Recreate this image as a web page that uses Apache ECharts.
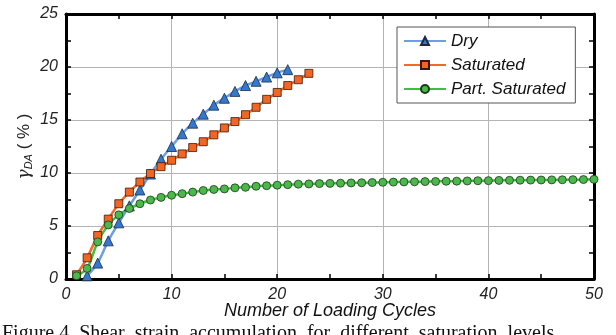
<!DOCTYPE html>
<html lang="en" style="height: 100%">
<head>
    <meta charset="utf-8">
    <title>Shear strain accumulation</title>
    <style>
        body { margin: 0; background: #fff; }
        #chart { width: 616px; height: 335px; }
    </style>
</head>
<body>
<div id="chart"></div>
<script src="https://cdn.jsdelivr.net/npm/echarts@6/dist/echarts.min.js"></script>
<script>
    // values
    const dryCycles = [2, 3, 4, 5, 6, 7, 8, 9, 10, 11, 12, 13, 14, 15, 16, 17, 18, 19, 20, 21];
    const dryValues = [0.3, 1.5, 3.6, 5.3, 6.9, 8.4, 9.9, 11.3, 12.5, 13.7, 14.7, 15.55, 16.4, 17.05, 17.7, 18.25, 18.65, 19.05, 19.45, 19.75];

    const satCycles = [1, 2, 3, 4, 5, 6, 7, 8, 9, 10, 11, 12, 13, 14, 15, 16, 17, 18, 19, 20, 21, 22, 23];
    const satValues = [0.4, 2.0, 4.1, 5.65, 7.1, 8.2, 9.15, 9.95, 10.6, 11.2, 11.8, 12.4, 12.95, 13.6, 14.25, 14.85, 15.5, 16.2, 16.95, 17.6, 18.25, 18.8, 19.4];

    const partCycles = [1, 2, 3, 4, 5, 6, 7, 8, 9, 10, 11, 12, 13, 14, 15, 16, 17, 18, 19, 20, 21, 22, 23, 24, 25,
        26, 27, 28, 29, 30, 31, 32, 33, 34, 35, 36, 37, 38, 39, 40, 41, 42, 43, 44, 45, 46, 47, 48, 49, 50];
    const partValues = [0.3, 1.0, 3.5, 5.1, 6.05, 6.65, 7.1, 7.45, 7.7, 7.9, 8.05, 8.2, 8.35, 8.45, 8.5, 8.6, 8.65, 8.75, 8.8, 8.85,
        8.9, 8.95, 8.97, 9.0, 9.02, 9.04, 9.06, 9.08, 9.1, 9.12, 9.14, 9.16, 9.17, 9.19, 9.2, 9.22, 9.23, 9.25, 9.27, 9.28,
        9.3, 9.31, 9.32, 9.33, 9.34, 9.35, 9.36, 9.37, 9.38, 9.4];

    const seriesNames = ['Dry', 'Saturated', 'Part. Saturated'];
    const xTicks = [0, 10, 20, 30, 40, 50];
    const yTicks = [0, 5, 10, 15, 20, 25];

    const zip = (xs, ys) => xs.map((x, i) => [x, ys[i]]);

    const chart = echarts.init(document.getElementById('chart'));

    const labelFont = {
        fontFamily: 'Liberation Sans',
        fontStyle: 'italic',
        fontSize: 16,
        color: '#222'
    };

    const frameAxis = (pos, showLabels, extra) => Object.assign({
        type: 'value',
        position: pos,
        axisLine: { show: true, onZero: false, lineStyle: { color: '#000', width: 3 } },
        axisTick: { show: true, inside: true, length: 5, lineStyle: { color: '#000', width: 1.5 } },
        minorTick: { show: true, splitNumber: 2, length: 5, lineStyle: { color: '#000', width: 1.5 } },
        axisLabel: Object.assign({ show: showLabels }, labelFont),
        splitLine: { show: false }
    }, extra);

    chart.setOption({
        animation: false,
        grid: { left: 66, right: 22, top: 14, bottom: 56 },
        legend: {
            data: seriesNames,
            orient: 'vertical',
            left: 397,
            top: 27,
            backgroundColor: '#fff',
            borderColor: '#555',
            borderWidth: 1,
            borderRadius: 0,
            padding: [4, 10, 4, 6],
            itemWidth: 42,
            itemHeight: 10,
            itemGap: 4,
            textStyle: {
                fontFamily: 'Liberation Sans',
                fontStyle: 'italic',
                fontSize: 17,
                lineHeight: 20,
                color: '#111'
            }
        },
        xAxis: [
            frameAxis('bottom', true, {
                min: xTicks[0], max: xTicks[xTicks.length - 1], interval: 10,
                name: 'Number of Loading Cycles',
                nameLocation: 'middle',
                nameGap: 23,
                nameMoveOverlap: false,
                nameTextStyle: { fontFamily: 'Liberation Sans', fontStyle: 'italic', fontSize: 18, color: '#111' },
                axisLabel: Object.assign({ margin: 8 }, labelFont),
                splitLine: { show: true, lineStyle: { color: '#b4b4b4', width: 1 } }
            }),
            frameAxis('top', false, { min: 0, max: 50, interval: 10 })
        ],
        yAxis: [
            frameAxis('left', true, {
                min: yTicks[0], max: yTicks[yTicks.length - 1], interval: 5,
                name: '{g|γ}{s|DA}{p| ( % )}',
                nameLocation: 'middle',
                nameGap: 32,
                nameMoveOverlap: false,
                nameTextStyle: {
                    color: '#222',
                    rich: {
                        g: { fontFamily: 'DejaVu Serif', fontStyle: 'italic', fontSize: 17, color: '#222' },
                        s: { fontFamily: 'Liberation Sans', fontStyle: 'italic', fontSize: 11, color: '#222', padding: [8, 0, 0, 0] },
                        p: { fontFamily: 'Liberation Sans', fontSize: 17, color: '#222' }
                    }
                },
                axisLabel: Object.assign({ margin: 8 }, labelFont),
                splitLine: { show: true, lineStyle: { color: '#b4b4b4', width: 1 } }
            }),
            frameAxis('right', false, { min: 0, max: 25, interval: 5 })
        ],
        series: [
            {
                name: seriesNames[0],
                type: 'line',
                data: zip(dryCycles, dryValues),
                smooth: 0.3,
                symbol: 'triangle',
                symbolSize: 10,
                lineStyle: { color: '#6a9ee6', width: 2.5 },
                itemStyle: { color: '#3479cf', borderColor: '#1a2a40', borderWidth: 0.8 }
            },
            {
                name: seriesNames[1],
                type: 'line',
                data: zip(satCycles, satValues),
                smooth: 0.3,
                symbol: 'rect',
                symbolSize: 8,
                lineStyle: { color: '#f06a28', width: 2.5 },
                itemStyle: { color: '#f26522', borderColor: '#3a1a0a', borderWidth: 0.8 }
            },
            {
                name: seriesNames[2],
                type: 'line',
                data: zip(partCycles, partValues),
                smooth: 0.3,
                symbol: 'circle',
                symbolSize: 8,
                lineStyle: { color: '#3fbf3f', width: 2.5 },
                itemStyle: { color: '#4cb84c', borderColor: '#1a3a1a', borderWidth: 0.8 }
            }
        ],
        graphic: [{
            type: 'text',
            left: 2,
            top: 324,
            style: {
                text: 'Figure 4. Shear  strain  accumulation  for  different  saturation  levels',
                font: '20px "Liberation Serif"',
                fill: '#111'
            }
        }]
    });
</script>
</body>
</html>
